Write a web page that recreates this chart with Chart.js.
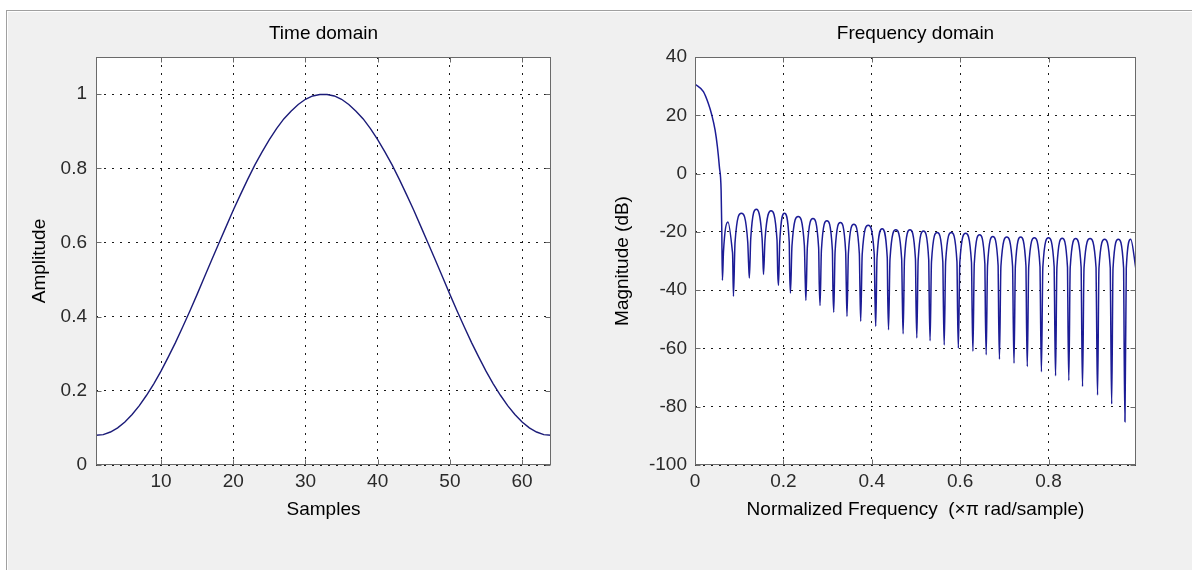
<!DOCTYPE html>
<html><head><meta charset="utf-8">
<script src="https://cdn.jsdelivr.net/npm/chart.js@4.4.1/dist/chart.umd.min.js"></script>
<style>
html,body{margin:0;padding:0;background:#fff;width:1192px;height:570px;overflow:hidden;position:relative}
#frame{position:absolute;left:6px;top:10px;width:1200px;height:580px;background:#f0f0f0;border-top:1px solid #a0a0a0;border-left:1px solid #a0a0a0;box-shadow:inset 1px 1px 0 #fff;}
canvas{position:absolute;top:0}
#c1{left:0}
#c2{left:600px}
</style></head><body>
<div id="frame"></div>
<canvas id="c1" width="646" height="570"></canvas>
<canvas id="c2" width="631" height="570"></canvas>
<script>
// ---- Time domain data ----
const samples = [1,2,3,4,5,6,7,8,9,10,11,12,13,14,15,16,17,18,19,20,21,22,23,24,25,26,27,28,29,30,31,32,
  33,34,35,36,37,38,39,40,41,42,43,44,45,46,47,48,49,50,51,52,53,54,55,56,57,58,59,60,61,62,63,64];
const amplitude = [0.080,0.082,0.089,0.100,0.116,0.136,0.160,0.188,0.219,0.253,0.291,0.330,0.372,0.415,0.460,0.506,
  0.552,0.597,0.642,0.687,0.729,0.770,0.809,0.844,0.877,0.907,0.933,0.954,0.972,0.986,0.995,0.999,
  0.999,0.995,0.986,0.972,0.954,0.933,0.907,0.877,0.844,0.809,0.770,0.729,0.687,0.642,0.597,0.552,
  0.506,0.460,0.415,0.372,0.330,0.291,0.253,0.219,0.188,0.160,0.136,0.116,0.100,0.089,0.082,0.080];
const timeXTicks = [10,20,30,40,50,60];
const timeYTicks = [0,0.2,0.4,0.6,0.8,1];

// ---- Frequency domain data (main lobe, then each sidelobe: edge, peak, edge, shoulder, null) ----
const freqX = [0,0.019,0.030,0.038,0.0455,0.0507,0.0552,0.0591,0.0605,0.062,
  0.0645,0.0745,0.0845,0.0852,0.087,
  0.0906,0.105,0.1194,0.1212,0.123,
  0.1262,0.139,0.1518,0.1532,0.155,
  0.1584,0.172,0.1856,0.1872,0.189,
  0.1917,0.2025,0.2133,0.2142,0.216,
  0.2195,0.2335,0.2475,0.2492,0.251,
  0.2542,0.267,0.2798,0.2812,0.283,
  0.2861,0.2985,0.3109,0.3122,0.314,
  0.317,0.329,0.341,0.3422,0.344,
  0.3471,0.3595,0.3719,0.3732,0.375,
  0.3784,0.392,0.4056,0.4072,0.409,
  0.4119,0.4235,0.4351,0.4362,0.438,
  0.4413,0.4545,0.4677,0.4692,0.471,
  0.4741,0.4865,0.4989,0.5002,0.502,
  0.505,0.517,0.529,0.5302,0.532,
  0.5352,0.548,0.5608,0.5622,0.564,
  0.5672,0.58,0.5928,0.5942,0.596,
  0.5993,0.6125,0.6257,0.6272,0.629,
  0.632,0.644,0.656,0.6572,0.659,
  0.662,0.674,0.686,0.6872,0.689,
  0.6923,0.7055,0.7187,0.7202,0.722,
  0.725,0.737,0.749,0.7502,0.752,
  0.7552,0.768,0.7808,0.7822,0.784,
  0.7872,0.8,0.8128,0.8142,0.816,
  0.819,0.831,0.843,0.8442,0.846,
  0.8491,0.8615,0.8739,0.8752,0.877,
  0.8804,0.894,0.9076,0.9092,0.911,
  0.9142,0.927,0.9398,0.9412,0.943,
  0.946,0.958,0.97,0.9712,0.973,
  0.976,0.986,0.998];
const magDb = [30.7,28.1,24.1,20.1,14.9,9.2,2.3,-5.7,-18,-36.6,
  -26.6,-16.6,-26.6,-28.0,-42.1,
  -23.6,-13.6,-23.6,-30.6,-35.8,
  -22.2,-12.2,-22.2,-27.0,-34.6,
  -22.8,-12.8,-22.8,-34.0,-38.4,
  -23.6,-13.6,-23.6,-33.4,-41.0,
  -24.7,-14.7,-24.7,-35.0,-43.5,
  -25.4,-15.4,-25.4,-38.0,-45.3,
  -26.2,-16.2,-26.2,-39.8,-47.6,
  -26.8,-16.8,-26.8,-37.0,-49.0,
  -27.4,-17.4,-27.4,-38.6,-50.7,
  -27.7,-17.7,-27.7,-42.0,-52.4,
  -28.9,-18.9,-28.9,-42.6,-53.6,
  -29.3,-19.3,-29.3,-43.2,-55.0,
  -29.3,-19.3,-29.3,-44.9,-56.4,
  -29.7,-19.7,-29.7,-45.5,-57.4,
  -30.2,-20.2,-30.2,-46.0,-58.8,
  -30.2,-20.2,-30.2,-47.2,-59.9,
  -30.5,-20.5,-30.5,-47.7,-61.0,
  -31.0,-21.0,-31.0,-48.9,-62.2,
  -31.6,-21.6,-31.6,-49.2,-63.7,
  -31.8,-21.8,-31.8,-50.3,-65.1,
  -31.8,-21.8,-31.8,-50.3,-66.2,
  -32.0,-22.0,-32.0,-51.5,-68.0,
  -32.0,-22.0,-32.0,-52.0,-69.4,
  -32.2,-22.2,-32.2,-53.2,-71.0,
  -32.3,-22.3,-32.3,-53.8,-73.1,
  -32.3,-22.3,-32.3,-56.0,-76.0,
  -32.5,-22.5,-32.5,-57.2,-79.1,
  -32.5,-22.5,-32.5,-60.0,-85.2,
  -32.5,-22.5,-33.0];
const freqXTicks = [0,0.2,0.4,0.6,0.8];
const freqYTicks = [-100,-80,-60,-40,-20,0,20,40];

const FONT = "'Liberation Sans', Arial, Helvetica, sans-serif";
Chart.defaults.font.family = FONT;
Chart.defaults.font.size = 19;
Chart.defaults.color = '#000';

const axesPlugin = {
  id: 'matlabAxes',
  beforeDraw(chart) {
    const {ctx, chartArea: a} = chart;
    ctx.save();
    ctx.fillStyle = '#fff';
    ctx.fillRect(a.left, a.top, a.right - a.left, a.bottom - a.top);
    ctx.restore();
  },
  afterDatasetsDraw(chart) {
    const {ctx, chartArea: a, scales} = chart;
    const x = scales.x, y = scales.y;
    const L = Math.round(a.left) + 0.5, R = Math.round(a.right) - 0.5;
    const T = Math.round(a.top) + 0.5, B = Math.round(a.bottom) - 0.5;
    const len = 5;
    ctx.save();
    ctx.strokeStyle = '#6a6a6a';
    ctx.lineWidth = 1;
    ctx.beginPath();
    x.ticks.forEach(t => {
      const p = Math.round(x.getPixelForValue(t.value)) + 0.5;
      ctx.moveTo(p, B); ctx.lineTo(p, B - len);
      ctx.moveTo(p, T); ctx.lineTo(p, T + len);
    });
    y.ticks.forEach(t => {
      const p = Math.round(y.getPixelForValue(t.value)) + 0.5;
      ctx.moveTo(L, p); ctx.lineTo(L + len, p);
      ctx.moveTo(R, p); ctx.lineTo(R - len, p);
    });
    ctx.stroke();
    ctx.strokeRect(L, T, R - L, B - T);
    ctx.restore();
  },
  afterDraw(chart, args, opts) {
    const {ctx, chartArea: a} = chart;
    ctx.save();
    ctx.font = '19px ' + FONT;
    ctx.fillStyle = '#000';
    ctx.textAlign = 'center';
    ctx.textBaseline = 'middle';
    ctx.fillText(opts.text, (a.left + a.right) / 2, 34);
    ctx.restore();
  }
};

function fmt(v) { return String(+Number(v).toFixed(2)); }

function makeOptions(o) {
  return {
    responsive: false,
    animation: false,
    events: [],
    layout: { padding: { left: 0, right: 95, top: 57, bottom: 45 } },
    plugins: {
      legend: { display: false },
      tooltip: { enabled: false },
      title: { display: false },
      matlabAxes: { text: o.title }
    },
    scales: {
      x: {
        type: 'linear', min: o.xmin, max: o.xmax,
        afterBuildTicks: s => { s.ticks = o.xticks.map(v => ({ value: v })); },
        afterFit: s => { s.height = 60; },
        grid: { color: '#1a1a1a', lineWidth: 1, drawTicks: false },
        border: { display: false, dash: [2, 6] },
        ticks: { padding: 5, color: '#2a2a2a', maxRotation: 0, autoSkip: false, callback: v => fmt(v) },
        title: { display: true, text: o.xtitle, color: '#000', padding: { top: 0, bottom: 3.6 } }
      },
      y: {
        type: 'linear', min: o.ymin, max: o.ymax,
        afterBuildTicks: s => { s.ticks = o.yticks.map(v => ({ value: v })); },
        afterFit: s => { s.width = o.yw; },
        grid: { color: '#1a1a1a', lineWidth: 1, drawTicks: false },
        border: { display: false, dash: [2, 6] },
        ticks: { padding: o.ypad, color: '#2a2a2a', autoSkip: false, callback: v => fmt(v) },
        title: { display: true, text: o.ytitle, color: '#000', padding: { top: o.ytp, bottom: 0 } }
      }
    }
  };
}

new Chart(document.getElementById('c1'), {
  type: 'line',
  data: { datasets: [{
    data: samples.map((s, i) => ({ x: s, y: amplitude[i] })),
    borderColor: '#1b1b78', borderWidth: 1.4, pointRadius: 0, tension: 0, fill: false
  }] },
  options: makeOptions({ title: 'Time domain', xmin: 1, xmax: 64, xticks: timeXTicks,
    ymin: 0, ymax: 1.1, yticks: timeYTicks, xtitle: 'Samples', ytitle: 'Amplitude',
    yw: 96, ypad: 9, ytp: 28.6 }),
  plugins: [axesPlugin]
});

new Chart(document.getElementById('c2'), {
  type: 'line',
  data: { datasets: [{
    data: freqX.map((f, i) => ({ x: f, y: magDb[i] })),
    borderColor: '#1c1c96', borderWidth: 1.5, pointRadius: 0,
    cubicInterpolationMode: 'monotone', fill: false
  }] },
  options: makeOptions({ title: 'Frequency domain', xmin: 0, xmax: 0.998, xticks: freqXTicks,
    ymin: -100, ymax: 40, yticks: freqYTicks, xtitle: 'Normalized Frequency  (\u00d7\u03c0 rad/sample)',
    ytitle: 'Magnitude (dB)', yw: 95, ypad: 8, ytp: 11.6 }),
  plugins: [axesPlugin]
});
</script>
</body></html>
